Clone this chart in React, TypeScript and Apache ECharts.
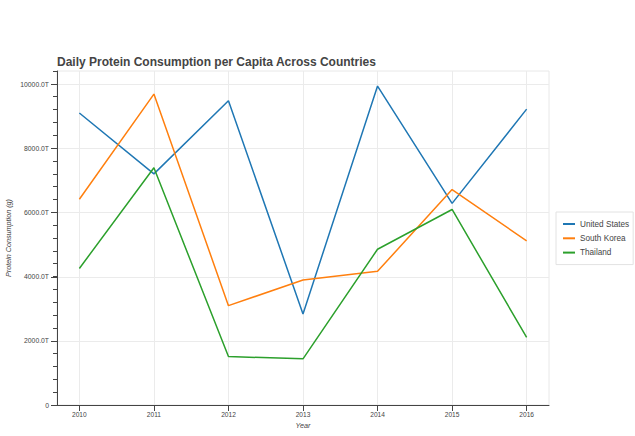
import React, { useEffect, useRef } from "react";
import * as echarts from "echarts";

const years = [2010, 2011, 2012, 2013, 2014, 2015, 2016];
const unitedStates = [9110, 7210, 9490, 2840, 9950, 6290, 9230];
const southKorea = [6420, 9700, 3100, 3900, 4170, 6720, 5120];
const thailand = [4260, 7400, 1510, 1440, 4860, 6100, 2110];
const yTicks = [0, 2000, 4000, 6000, 8000, 10000];

const seriesNames = ["United States", "South Korea", "Thailand"];
const seriesValues = [unitedStates, southKorea, thailand];
const colors = ["#1f77b4", "#ff7f0e", "#2ca02c"];

const FONT = "'Liberation Sans', Arial, Helvetica, sans-serif";

export default function App() {
  const ref = useRef<HTMLDivElement>(null);
  useEffect(() => {
    if (!ref.current) return;
    const chart = echarts.init(ref.current, undefined, { renderer: "svg" });
    chart.setOption({
      animation: false,
      backgroundColor: "#ffffff",
      textStyle: { fontFamily: FONT },
      title: {
        text: "Daily Protein Consumption per Capita Across Countries",
        left: 52,
        top: 51,
        textStyle: { fontFamily: FONT, fontSize: 12, fontWeight: "bold", color: "#444444" },
      },
      grid: {
        left: 57,
        right: 86,
        top: 71,
        bottom: 31,
        outerBoundsMode: "none",
        containLabel: false,
        show: true,
        borderColor: "#e8e8e8",
        borderWidth: 1,
      },
      legend: {
        orient: "vertical",
        left: 556,
        top: 212,
        padding: [7, 4, 7, 7],
        itemGap: 4.3,
        itemWidth: 12,
        itemHeight: 2,
        icon: "rect",
        borderColor: "#e2e2e2",
        borderWidth: 1,
        backgroundColor: "#ffffff",
        textStyle: { fontFamily: FONT, fontSize: 8.2, lineHeight: 10, color: "#444444" },
        data: seriesNames,
      },
      xAxis: {
        type: "value",
        min: 2009.7,
        max: 2016.3,
        name: "Year",
        nameLocation: "middle",
        nameGap: 17,
        nameMoveOverlap: false,
        nameTextStyle: { fontFamily: FONT, fontSize: 7.2, fontStyle: "italic", color: "#444444" },
        axisLine: { show: true, onZero: false, lineStyle: { color: "#444444", width: 1 } },
        axisTick: { show: true, length: 6, customValues: years, lineStyle: { color: "#444444" } },
        axisLabel: {
          customValues: years,
          margin: 6,
          fontSize: 6.6,
          color: "#444444",
          formatter: (v: number) => String(v),
        },
        splitLine: { show: true, lineStyle: { color: "#ebebeb", width: 1 } },
      },
      yAxis: [
        {
          type: "value",
          min: 0,
          max: 10420,
          position: "left",
          name: "Protein Consumption (g)",
          nameLocation: "middle",
          nameGap: 45,
          nameMoveOverlap: false,
          nameTextStyle: { fontFamily: FONT, fontSize: 7.2, fontStyle: "italic", color: "#444444" },
          axisLine: { show: true, lineStyle: { color: "#444444", width: 1 } },
          axisTick: { show: true, length: 6, customValues: yTicks, lineStyle: { color: "#444444" } },
          axisLabel: {
            customValues: yTicks,
            margin: 8,
            fontSize: 6.8,
            color: "#444444",
            formatter: (v: number) => (v === 0 ? "0" : v.toFixed(1) + "T"),
          },
          splitLine: { show: true, lineStyle: { color: "#ebebeb", width: 1 } },
        },
        {
          type: "value",
          min: 0,
          max: 10400,
          interval: 400,
          position: "right",
          offset: -492,
          axisLine: { show: false },
          axisTick: { show: true, inside: true, length: 4, lineStyle: { color: "#444444" } },
          axisLabel: { show: false },
          splitLine: { show: false },
        },
      ],
      series: seriesNames.map((name, i) => ({
        name,
        type: "line",
        yAxisIndex: 0,
        showSymbol: false,
        symbol: "none",
        color: colors[i],
        lineStyle: { color: colors[i], width: 1.5 },
        data: years.map((y, j) => [y, seriesValues[i][j]]),
      })),
    });
    return () => chart.dispose();
  }, []);
  return (
    <div
      ref={ref}
      style={{ position: "fixed", left: 0, top: 0, width: 635, height: 436 }}
    />
  );
}
